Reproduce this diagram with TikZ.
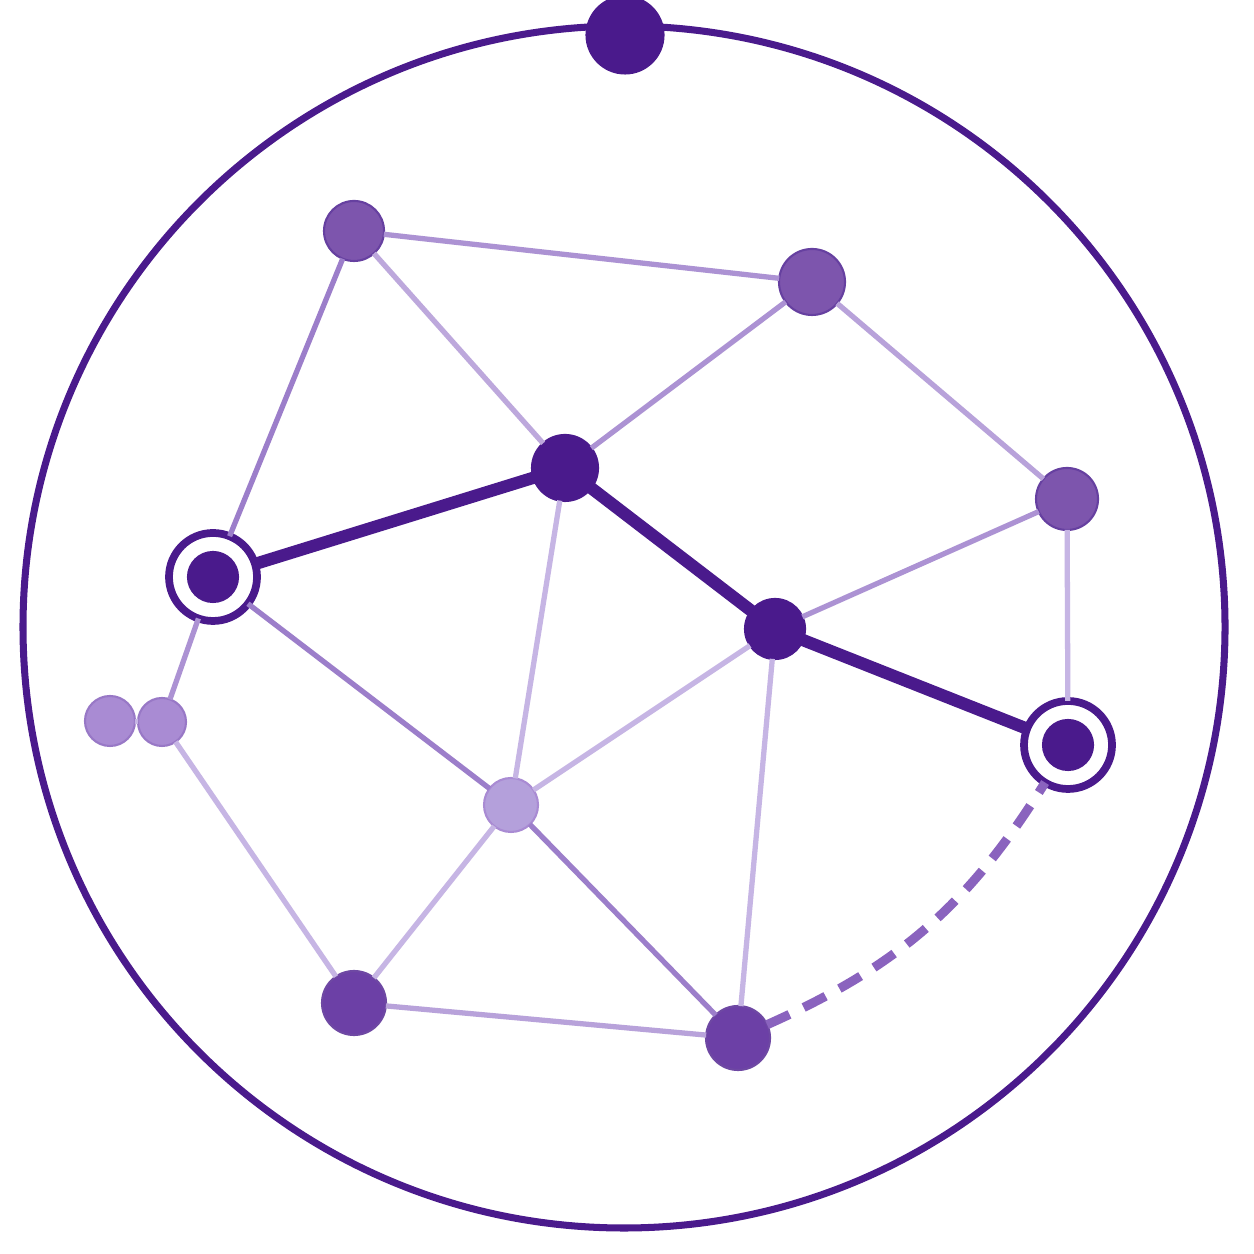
\documentclass[tikz,border=0pt]{standalone}
\usepackage{tikz}
\usetikzlibrary{calc}
\definecolor{deep}{HTML}{4A1A8C}
\definecolor{mid}{HTML}{7D55AD}
\definecolor{midrim}{HTML}{6640A0}
\definecolor{plum}{HTML}{6C40A6}
\definecolor{soft}{HTML}{A98BD3}
\definecolor{softrim}{HTML}{9878C6}
\definecolor{pale}{HTML}{B4A0DB}
\definecolor{edgea}{HTML}{9C7ECA}
\definecolor{edgeb}{HTML}{AC92D3}
\definecolor{edgec}{HTML}{C6B5E4}
\definecolor{dashc}{HTML}{8A63BE}
\tikzset{
  rim/.style={draw=deep, line width=2pt},
  route/.style={draw=deep, line width=3.5pt},
  link/.style={line width=1.5pt},
  hop/.style={draw=dashc, line width=2.6pt, dash pattern=on 7pt off 4.5pt},
  pt/.style={circle, inner sep=0pt, outer sep=0pt, line width=0.6pt},
  hub/.style={pt, fill=deep, draw=deep},
  site/.style={pt, fill=mid, draw=midrim},
  base/.style={pt, fill=plum, draw=deep!80},
  leaf/.style={pt, fill=soft, draw=softrim},
  ringo/.style={pt, fill=white, draw=deep, line width=2.2pt, minimum size=0.88cm},
  core/.style={pt, fill=deep, draw=deep, minimum size=0.5cm}
}

\begin{document}
\begin{tikzpicture}
  \useasboundingbox (0,0) rectangle (12.54,12.54);
  \fill[white] (0,0) rectangle (12.54,12.54);

  % outer boundary
  \coordinate (O) at (6.24,6.27);
  \draw[rim] (O) circle (6.01);
  \node[hub, minimum size=0.77cm] (T) at (6.25,12.19) {};

  % vertices
  \node[site, minimum size=0.60cm] (A) at (3.54,10.23) {};
  \node[site, minimum size=0.66cm] (B) at (8.12,9.72) {};
  \node[hub,  minimum size=0.66cm] (C) at (5.65,7.86) {};
  \node[ringo] (D) at (2.13,6.77) {};
  \node[core] (Dc) at (D) {};
  \node[site, minimum size=0.62cm] (E) at (10.67,7.55) {};
  \node[hub,  minimum size=0.60cm] (F) at (7.75,6.25) {};
  \node[ringo] (G) at (10.68,5.09) {};
  \node[core] (Gc) at (G) {};
  \node[leaf, minimum size=0.50cm] (H) at (1.10,5.33) {};
  \node[leaf, minimum size=0.48cm] (I) at (1.62,5.32) {};
  \node[pt, fill=pale, draw=soft, minimum size=0.54cm] (J) at (5.11,4.49) {};
  \node[base, minimum size=0.64cm] (K) at (3.54,2.51) {};
  \node[base, minimum size=0.64cm] (L) at (7.38,2.16) {};

  % mesh
  \draw[link, draw=edgeb] (A) -- (B);
  \draw[link, draw=edgea] (A) -- (D);
  \draw[link, draw=edgeb!80] (A) -- (C);
  \draw[link, draw=edgeb] (B) -- (C);
  \draw[link, draw=edgeb!85] (B) -- (E);
  \draw[link, draw=edgec] (C) -- (J);
  \draw[link, draw=edgeb] (E) -- (F);
  \draw[link, draw=edgec] (E) -- (G);
  \draw[link, draw=edgea] (D) -- (J);
  \draw[link, draw=edgeb] (D) -- (I);
  \draw[link, draw=edgec] (H) -- (I);
  \draw[link, draw=edgec] (I) -- (K);
  \draw[link, draw=edgec] (K) -- (J);
  \draw[link, draw=edgeb!85] (K) -- (L);
  \draw[link, draw=edgea] (J) -- (L);
  \draw[link, draw=edgec] (J) -- (F);
  \draw[link, draw=edgec] (F) -- (L);

  % highlighted route
  \draw[route] (D) -- (C) -- (F) -- (G);
  \draw[hop] (L) to[bend right=17] (G);
\end{tikzpicture}
\end{document}
